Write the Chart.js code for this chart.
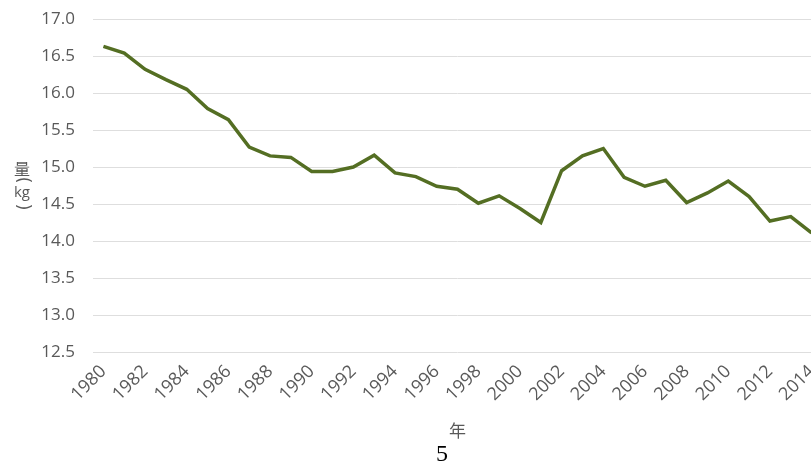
<!DOCTYPE html>
<html lang="ja">
<head>
    <meta charset="UTF-8">
    <title>量（kg）の推移</title>
    <script src="https://cdn.jsdelivr.net/npm/chart.js@4.4.1/dist/chart.umd.min.js"></script>
    <style>
        html, body { margin: 0; padding: 0; background: #fff; overflow: hidden; }
        #wrap { position: relative; width: 830px; height: 462px; }
    </style>
</head>
<body>
<div id="wrap">
    <canvas id="myChart"></canvas>
</div>

<script>
    const years = ['1980', '1981', '1982', '1983', '1984', '1985', '1986', '1987', '1988', '1989',
        '1990', '1991', '1992', '1993', '1994', '1995', '1996', '1997', '1998', '1999',
        '2000', '2001', '2002', '2003', '2004', '2005', '2006', '2007', '2008', '2009',
        '2010', '2011', '2012', '2013', '2014'];
    const amounts = [16.63, 16.54, 16.32, 16.18, 16.05, 15.79, 15.64, 15.27, 15.15, 15.13,
        14.94, 14.94, 15.00, 15.16, 14.92, 14.87, 14.74, 14.70, 14.51, 14.61,
        14.44, 14.25, 14.95, 15.15, 15.25, 14.86, 14.74, 14.82, 14.52, 14.65,
        14.81, 14.60, 14.27, 14.33, 14.11];
    const yTitleMain = '量';
    const yTitleUnit = 'kg';
    const xTitle = '年';
    const pageNumber = '5';

    const FONT = "'Open Sans', 'Noto Sans CJK JP', sans-serif";
    const TEXT_COLOR = '#595959';
    const NONE = 'rgba(0,0,0,0)';

    // stacked vertical y title (量 ︵kg︶) and the page number under the chart
    const extraText = {
        id: 'extraText',
        afterDraw(chart) {
            const ctx = chart.ctx;
            ctx.save();
            ctx.fillStyle = TEXT_COLOR;
            ctx.textAlign = 'center';
            ctx.textBaseline = 'middle';
            ctx.font = "16px 'Noto Sans CJK JP', sans-serif";
            ctx.fillText(yTitleMain, 22, 169);
            ctx.font = "15px " + FONT;
            ctx.fillText(yTitleUnit, 22, 193);
            // brackets turned sideways, as in vertical writing
            [['(', 180], [')', 207]].forEach(([ch, y]) => {
                ctx.save();
                ctx.translate(22, y);
                ctx.rotate(Math.PI / 2);
                ctx.font = "17px 'DejaVu Sans', sans-serif";
                ctx.fillText(ch, 0, 0);
                ctx.restore();
            });
            ctx.fillStyle = '#000';
            ctx.textBaseline = 'alphabetic';
            ctx.font = "24px 'Liberation Serif', 'DejaVu Serif', serif";
            ctx.fillText(pageNumber, 442, 461);
            ctx.restore();
        }
    };

    const canvas = document.getElementById('myChart');

    new Chart(canvas, {
        type: 'line',
        data: {
            labels: years,
            datasets: [{
                data: amounts,
                borderColor: '#546E23',
                borderWidth: 3.5,
                pointRadius: 0,
                tension: 0,
                fill: false
            }]
        },
        options: {
            responsive: true,
            maintainAspectRatio: false,
            animation: false,
            layout: {
                padding: { top: 19, right: 8, bottom: 20, left: 0 }
            },
            plugins: {
                legend: { display: false },
                tooltip: { enabled: false }
            },
            scales: {
                x: {
                    offset: true,
                    afterFit(scale) { scale.height = 90; },
                    // invisible tick marks give the gap under the plot (tick padding would widen the layout)
                    grid: { display: true, drawOnChartArea: false, color: NONE, tickColor: NONE, drawTicks: true, tickLength: 9 },
                    border: { display: false },
                    ticks: {
                        autoSkip: false,
                        minRotation: 45,
                        maxRotation: 45,
                        padding: 0,
                        color: TEXT_COLOR,
                        font: { family: FONT, size: 18 },
                        callback: function (val, index) {
                            return index % 2 === 0 ? this.getLabelForValue(val) : '';
                        }
                    },
                    title: {
                        display: true,
                        text: xTitle,
                        color: TEXT_COLOR,
                        font: { family: FONT, size: 17 },
                        padding: { top: 4, bottom: 0 }
                    }
                },
                y: {
                    min: 12.5,
                    max: 17,
                    afterFit(scale) { scale.width = 93; },
                    grid: { color: '#DEDEDE', lineWidth: 1, drawTicks: true, tickLength: 15, tickColor: NONE },
                    border: { display: false },
                    ticks: {
                        stepSize: 0.5,
                        padding: 3,
                        color: TEXT_COLOR,
                        font: { family: FONT, size: 17 },
                        callback: v => v.toFixed(1)
                    }
                }
            }
        },
        plugins: [extraText]
    });
</script>
</body>
</html>
